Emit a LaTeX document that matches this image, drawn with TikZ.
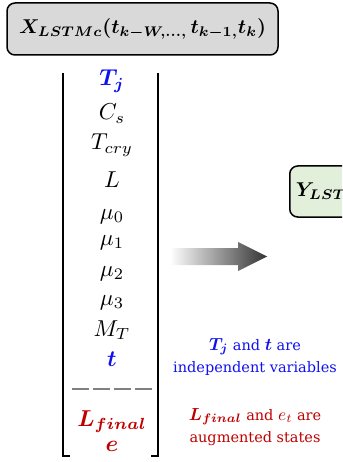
\documentclass[tikz,border=0pt]{standalone}
\usepackage{fontspec}
\setmainfont{DejaVu Serif}
\usepackage{amsmath}
\usepackage{bm}
\definecolor{myblue}{HTML}{1010F0}
\definecolor{myred}{HTML}{C00000}
\definecolor{boxgray}{HTML}{D9D9D9}
\definecolor{boxgreen}{HTML}{E2EFDA}
\newcommand{\bigmath}[1]{\scalebox{2.3}{$#1$}}
\newcommand{\titlemath}[1]{\scalebox{2.0}{$#1$}}
\newcommand{\notemath}[1]{\scalebox{1.75}{\fontsize{10}{12}\selectfont$#1$}}
\begin{document}
\begin{tikzpicture}[x=1pt,y=-1pt,
  vec/.style={anchor=base},
  note/.style={anchor=base,font=\fontsize{14.5}{18}\selectfont,inner sep=0pt},
  bar/.style={line width=2pt,black}]
\useasboundingbox (0,0) rectangle (342,462);
\clip (0,0) rectangle (342,462);
\node[draw,line width=1.5pt,fill=boxgray,rounded corners=8pt,minimum width=271pt,minimum height=52pt,inner sep=0pt]
  (xbox) at (142.5,29) {\titlemath{\bm{X_{LSTMc}(t_{k-W,\ldots,}\,t_{k-1,}t_k)}}};
\node[draw,line width=1.5pt,fill=boxgreen,rounded corners=8pt,minimum height=51pt,minimum width=90pt,inner sep=0pt,anchor=west]
  (ybox) at (289,191.5) {\titlemath{\bm{Y_{LSTMc}}}};
% vector entries
\node[vec,text=myblue] (tj) at (112,86) {\bigmath{\bm{T_j}}};
\node[vec] (cs) at (112,120) {\bigmath{C_s}};
\node[vec] (tcry) at (112,150) {\bigmath{T_{cry}}};
\node[vec] (l) at (112,187) {\bigmath{L}};
\node[vec] (m0) at (112,219) {\bigmath{\mu_0}};
\node[vec] (m1) at (112,245) {\bigmath{\mu_1}};
\node[vec] (m2) at (112,276) {\bigmath{\mu_2}};
\node[vec] (m3) at (112,305) {\bigmath{\mu_3}};
\node[vec] (mt) at (112,336) {\bigmath{M_T}};
\node[vec,text=myblue] (t) at (112,366) {\bigmath{\bm{t}}};
\node[vec,text=myred] (lf) at (112,426) {\bigmath{\bm{L_{final}}}};
\node[vec,text=myred] (e) at (112,451) {\bigmath{\bm{e}}};
% separator
\coordinate (s1) at (72,389);
\coordinate (s2) at (152,389);
\draw[gray,line width=1.3pt,dash pattern=on 17pt off 4pt] (s1) -- (s2);
% brackets
\coordinate (bl1) at (63,73); \coordinate (bl2) at (63,456); \coordinate (bl3) at (70,456);
\coordinate (br1) at (158,73); \coordinate (br2) at (158,456); \coordinate (br3) at (151,456);
\draw[bar] (bl1) -- (bl2) -- (bl3);
\draw[bar] (br1) -- (br2) -- (br3);
% arrow
\shade[left color=white,right color=black!80]
  (170,248) -- (238,248) -- (238,242) -- (267,256.5) -- (238,271) -- (238,265) -- (170,265) -- cycle;
% notes
\node[note,text=myblue] (n1) at (255,350) {\notemath{\bm{T_j}} and \notemath{\bm{t}} are};
\node[note,text=myblue] (n2) at (255,372) {independent variables};
\node[note,text=myred] (n3) at (255,420) {\notemath{\bm{L_{final}}} and \notemath{e_t} are};
\node[note,text=myred] (n4) at (255,442) {augmented states};
\end{tikzpicture}
\end{document}
